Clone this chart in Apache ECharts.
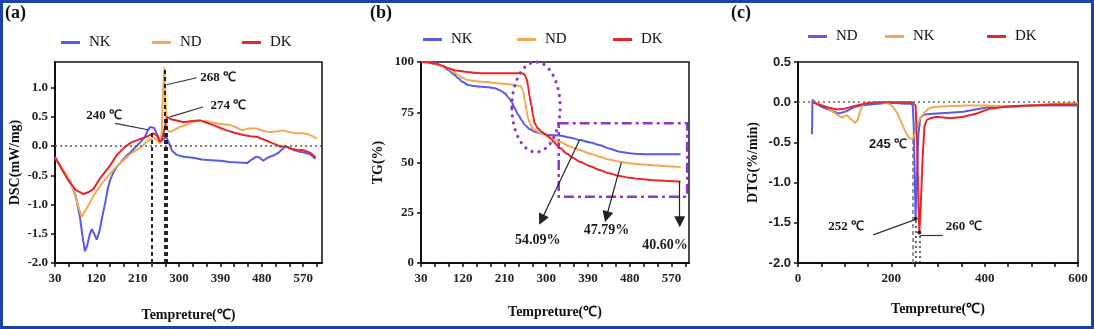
<!DOCTYPE html>
<html><head><meta charset="utf-8">
<script src="https://cdn.jsdelivr.net/npm/echarts@6/dist/echarts.min.js"></script>
<style>
html,body{margin:0;padding:0;background:#fff;}
#wrap{position:relative;width:1094px;height:329px;overflow:hidden;background:#fff;}
.panel{position:absolute;left:0;top:0;width:1094px;height:329px;}
#frame{position:absolute;left:0;top:0;width:1094px;height:329px;box-sizing:border-box;border:3px solid #1b43a6;pointer-events:none;}
</style></head><body>
<div id="wrap"><div id="pa" class="panel"></div><div id="pb" class="panel"></div><div id="pc" class="panel"></div><div id="frame"></div></div>
<script>
// ---- DSC curves (temperature ℃, mW/mg) ----
const dscNK = [[30,-0.2],[45,-0.38],[63,-0.6],[75,-0.85],[84,-1.2],[90,-1.55],[95,-1.8],[100,-1.7],[106,-1.5],[110,-1.42],[115,-1.5],[121,-1.6],[127,-1.45],[133,-1.2],[139,-0.98],[145,-0.72],[150,-0.58],[157,-0.45],[164,-0.36],[175,-0.26],[185,-0.17],[195,-0.1],[205,-0.02],[215,0.06],[225,0.15],[232,0.27],[237,0.33],[240,0.35],[246,0.31],[252,0.2],[258,0.1],[262,0.08],[267,0.12],[272,0.16],[278,0.05],[285,-0.08],[295,-0.15],[310,-0.18],[330,-0.2],[350,-0.23],[370,-0.24],[390,-0.25],[410,-0.27],[430,-0.28],[448,-0.29],[458,-0.23],[468,-0.18],[476,-0.2],[483,-0.25],[492,-0.2],[505,-0.16],[515,-0.12],[525,-0.05],[532,0.0],[540,-0.03],[550,-0.07],[560,-0.09],[572,-0.11],[585,-0.14],[597,-0.22]];
const dscND = [[30,-0.2],[45,-0.38],[63,-0.6],[75,-0.88],[88,-1.21],[100,-1.05],[113,-0.86],[130,-0.66],[150,-0.47],[165,-0.34],[179,-0.24],[195,-0.13],[215,-0.03],[225,0.04],[237,0.12],[245,0.15],[252,0.1],[258,0.05],[262,0.2],[265,0.9],[268,1.35],[270,0.8],[273,0.3],[280,0.24],[290,0.28],[302,0.33],[320,0.38],[339,0.44],[355,0.43],[368,0.41],[390,0.38],[411,0.36],[425,0.32],[437,0.27],[450,0.3],[469,0.3],[485,0.26],[498,0.24],[512,0.25],[527,0.27],[540,0.24],[557,0.22],[570,0.22],[586,0.19],[600,0.13]];
const dscDK = [[30,-0.18],[45,-0.4],[60,-0.6],[75,-0.75],[92,-0.82],[105,-0.78],[113,-0.74],[128,-0.55],[140,-0.43],[150,-0.33],[165,-0.15],[180,-0.03],[195,0.06],[215,0.12],[232,0.17],[244,0.22],[252,0.18],[258,0.08],[263,0.1],[268,0.3],[274,0.5],[282,0.46],[295,0.44],[310,0.41],[328,0.43],[346,0.44],[360,0.4],[375,0.36],[390,0.31],[404,0.27],[420,0.23],[440,0.19],[455,0.17],[469,0.16],[485,0.11],[498,0.07],[510,0.03],[520,-0.01],[530,0.0],[542,-0.04],[556,-0.06],[571,-0.07],[585,-0.11],[597,-0.19]];
const dscPeaks = [240, 268, 274];

// ---- TG curves (temperature ℃, mass %) ----
const tgNK = [[30,100],[45,100],[60,99.6],[75,98],[89,96],[100,94],[110,92],[120,90],[132,88.5],[145,88],[161,87.7],[175,87.4],[189,87],[200,86],[211,84.4],[218,82.5],[225,80.3],[232,77],[240,73.6],[247,71],[254,68.7],[265,66.5],[275,65.3],[290,64.4],[304,63.7],[329,63.4],[350,62.5],[372,61.2],[395,60],[415,58.7],[435,57],[458,55.4],[480,54.6],[502,54.2],[530,54.12],[560,54.1],[590,54.09]];
const tgND = [[30,100],[45,99.8],[60,99],[75,98],[89,96.7],[100,95],[110,93.5],[120,92],[132,91],[145,90.5],[161,90.2],[180,89.8],[196,89.4],[215,89],[232,88.6],[245,88],[250,86],[254,80.3],[258,75.5],[261,72],[265,69.5],[268,67.8],[275,66.2],[290,64.5],[310,62],[329,60.3],[350,58],[372,56.2],[395,54.4],[415,52.9],[435,51.5],[458,50.4],[480,49.6],[502,49.1],[530,48.6],[560,48.1],[590,47.79]];
const tgDK = [[30,100],[45,99.8],[60,99.3],[75,98.3],[89,96.9],[105,95.8],[125,95.2],[145,94.7],[161,94.4],[200,94.4],[232,94.4],[250,94.3],[254,93.5],[258,91.5],[261,88],[264,83],[268,78.6],[272,73],[275,69.5],[282,67],[290,65.3],[300,63.8],[311,62],[315,60.3],[330,57.2],[344,54.5],[358,52.3],[372,50.4],[395,48.1],[415,46.3],[435,44.6],[458,43.3],[480,42.4],[502,41.8],[530,41.2],[560,40.85],[590,40.6]];

// ---- DTG curves (temperature ℃, %/min) ----
const dtgND = [[30,-0.4],[31,0.03],[40,-0.02],[51,-0.06],[70,-0.1],[86,-0.14],[100,-0.12],[108,-0.1],[120,-0.06],[136,-0.04],[155,-0.03],[172,-0.02],[190,-0.01],[208,-0.01],[230,-0.02],[244,-0.02],[246,-0.05],[248,-0.3],[250,-0.9],[252,-1.45],[255,-0.9],[258,-0.4],[262,-0.2],[268,-0.16],[276,-0.15],[297,-0.14],[325,-0.13],[354,-0.12],[380,-0.09],[411,-0.06],[450,-0.05],[497,-0.04],[550,-0.04],[600,-0.04]];
const dtgNK = [[30,0],[45,-0.02],[62,-0.06],[75,-0.12],[90,-0.18],[97,-0.19],[104,-0.16],[112,-0.2],[122,-0.26],[128,-0.22],[134,-0.1],[140,-0.02],[160,0],[180,0],[195,-0.02],[204,-0.06],[213,-0.14],[222,-0.26],[230,-0.36],[237,-0.44],[245,-0.46],[250,-0.4],[254,-0.31],[260,-0.22],[269,-0.14],[280,-0.08],[290,-0.06],[320,-0.05],[360,-0.04],[400,-0.04],[440,-0.05],[461,-0.06],[480,-0.05],[500,-0.04],[550,-0.02],[600,-0.01]];
const dtgDK = [[30,0],[45,-0.03],[60,-0.06],[83,-0.09],[100,-0.08],[126,-0.04],[150,-0.01],[180,0],[210,0],[244,0],[252,-0.04],[255,-0.5],[258,-1.2],[260,-1.62],[263,-1.3],[267,-0.7],[271,-0.3],[276,-0.22],[283,-0.2],[297,-0.18],[326,-0.2],[354,-0.18],[383,-0.14],[411,-0.08],[440,-0.06],[497,-0.04],[550,-0.03],[600,-0.03]];
const dtgPeaks = [245, 252, 260];

// ---- axis ticks and labels ----
const tempTicks = [30,60,90,120,150,180,210,240,270,300,330,360,390,420,450,480,510,540,570,600];
const tempLabels = [30,120,210,300,390,480,570];
const dscTicks = [-2,-1.5,-1,-0.5,0,0.5,1];
const tgTicks = [0,25,50,75,100];
const dtgTempTicks = [0,50,100,150,200,250,300,350,400,450,500,550,600];
const dtgTempLabels = [0,200,400,600];
const dtgTicks = [-2,-1.5,-1,-0.5,0,0.5];

const BLUE = '#5a5ae6', ORANGE = '#f2a952', RED = '#e5262b', PURPLE = '#8e37cc';
const SERIF = '"Liberation Serif","Times New Roman",serif';
const SANS = '"Liberation Sans",Arial,sans-serif';

function legendItem(name, color, left, top) {
  return { data: [{ name: name, itemStyle: { color: color } }], left: left, top: top, icon: 'rect',
    itemWidth: 19, itemHeight: 3, selectedMode: false, padding: 0,
    textStyle: { fontFamily: SERIF, fontSize: 15, color: '#111', padding: [0, 0, 0, 4] } };
}
function xAxisOf(min, max, ticks, labels, gap) {
  return { type: 'value', min: min, max: max, name: 'Tempreture(℃)', nameLocation: 'middle', nameGap: gap,
    nameTextStyle: { fontFamily: SERIF, fontWeight: 'bold', fontSize: 14, color: '#111' },
    axisLine: { show: true, onZero: false, lineStyle: { color: '#111', width: 2 } },
    axisTick: { show: true, customValues: ticks, length: 4, lineStyle: { color: '#111', width: 1.5 } },
    axisLabel: { customValues: labels, margin: 9, fontFamily: SERIF, fontWeight: 'bold', fontSize: 13, color: '#222' },
    splitLine: { show: false } };
}
function yAxisOf(min, max, ticks, name, gap, fmt, family) {
  return { type: 'value', min: min, max: max, name: name, nameLocation: 'middle', nameGap: gap,
    nameTextStyle: { fontFamily: SERIF, fontWeight: 'bold', fontSize: 14, color: '#111' },
    axisLine: { show: true, onZero: false, lineStyle: { color: '#111', width: 2 } },
    axisTick: { show: true, customValues: ticks, length: 4, lineStyle: { color: '#111', width: 1.5 } },
    axisLabel: { customValues: ticks, margin: 7, formatter: fmt, fontFamily: family || SERIF, fontWeight: 'bold', fontSize: 13, color: '#222' },
    splitLine: { show: false } };
}
function gridAt(left, width) {
  return { left: left, top: 62, width: width, height: 201, show: true, borderColor: '#111', borderWidth: 1.5, backgroundColor: 'rgba(0,0,0,0)' };
}
function lineSeries(name, data, color, smooth) {
  return { name: name, type: 'line', data: data, showSymbol: false, smooth: smooth || false, smoothMonotone: 'x',
    lineStyle: { color: color, width: 2 }, itemStyle: { color: color }, animation: false, silent: true };
}
function seg(a, b, style) { return [{ coord: a, lineStyle: style }, { coord: b }]; }
function textAt(coord, text, font, size) {
  return { coord: coord, symbol: 'rect', symbolSize: 1, itemStyle: { color: 'rgba(0,0,0,0)' },
    label: { show: true, position: 'inside', formatter: text, fontFamily: font || SERIF, fontWeight: 'bold', fontSize: size || 13, color: '#1a1a1a' } };
}
function titleOf(t, left) {
  return { text: t, left: left, top: 4, padding: 0, textStyle: { fontFamily: SERIF, fontWeight: 'bold', fontSize: 18, color: '#111' } };
}
const fmt1 = v => Number(v).toFixed(1);
const degLabel = t => t + ' ℃';

// ---------------- (a) DSC ----------------
const dashBlack = { color: '#111', width: 1.8, type: [4, 3] };
const leader = { color: '#333', width: 1.2, type: 'solid' };
const pa = echarts.init(document.getElementById('pa'));
const sNK = lineSeries('NK', dscNK, BLUE);
sNK.markLine = { silent: true, symbol: ['none', 'none'], animation: false, label: { show: false },
  data: [
    [{ yAxis: 0, x: 55, lineStyle: { color: '#555', width: 1.5, type: [2, 3] } }, { yAxis: 0, x: 322 }],
    seg([dscPeaks[0], -2], [dscPeaks[0], 0.28], dashBlack),
    seg([dscPeaks[1], -2], [dscPeaks[1], 1.33], dashBlack),
    seg([dscPeaks[2], -2], [dscPeaks[2], 0.47], dashBlack),
    seg([161, 0.39], [232, 0.28], leader),
    seg([273, 1.05], [338, 1.17], leader),
    seg([280, 0.5], [352, 0.67], leader)
  ] };
sNK.markPoint = { silent: true, animation: false, data: [
  textAt([137, 0.53], degLabel(dscPeaks[0])),
  textAt([385, 1.18], degLabel(dscPeaks[1])),
  textAt([407, 0.70], degLabel(dscPeaks[2]))
] };
pa.setOption({
  animation: false,
  title: titleOf('(a)', 5),
  legend: [legendItem('NK', BLUE, 61, 35), legendItem('ND', ORANGE, 152, 35), legendItem('DK', RED, 242, 35)],
  grid: gridAt(55, 267),
  xAxis: xAxisOf(30, 611, tempTicks, tempLabels, 45),
  yAxis: yAxisOf(-2, 1.44, dscTicks, 'DSC(mW/mg)', 33, fmt1),
  series: [sNK, lineSeries('ND', dscND, ORANGE), lineSeries('DK', dscDK, RED)]
});

// ---------------- (b) TG ----------------
const pb = echarts.init(document.getElementById('pb'));
const last = arr => arr[arr.length - 1];
const arrowStyle = { color: '#222', width: 1.2, type: 'solid' };
const tNK = lineSeries('NK', tgNK, BLUE, 0.3);
tNK.markArea = { silent: true, animation: false, label: { show: false },
  itemStyle: { color: 'rgba(0,0,0,0)', borderColor: PURPLE, borderWidth: 2.5, borderType: [10, 4, 3, 4] },
  data: [[{ coord: [327, 69.5] }, { coord: [604, 33] }]] };
tNK.markLine = { silent: true, animation: false, symbol: ['none', 'triangle'], symbolSize: 11, label: { show: false },
  data: [
    seg([372, 61.2], [290, 21.5], arrowStyle),
    seg([462, 49.9], [430, 23], arrowStyle),
    seg([588, last(tgDK)[1]], [588, 20.5], arrowStyle)
  ] };
tNK.markPoint = { silent: true, animation: false, data: [
  textAt([282, 11.4], last(tgNK)[1].toFixed(2) + '%', SERIF, 14),
  textAt([430, 16.4], last(tgND)[1].toFixed(2) + '%', SERIF, 14),
  textAt([556, 9], last(tgDK)[1].toFixed(2) + '%', SERIF, 14)
] };
const ellipseSeries = { type: 'custom', silent: true, animation: false, z: 5, clip: false,
  data: [[278, 77.6, 52, 22.4]],
  renderItem: function (params, api) {
    const c = api.coord([api.value(0), api.value(1)]);
    const s = api.size([api.value(2), api.value(3)]);
    return { type: 'ellipse', shape: { cx: c[0], cy: c[1], rx: s[0], ry: s[1] },
      style: { fill: 'none', stroke: PURPLE, lineWidth: 3.2, lineDash: [0.1, 7], lineCap: 'round' } };
  } };
pb.setOption({
  animation: false,
  title: titleOf('(b)', 370),
  legend: [legendItem('NK', BLUE, 423, 32), legendItem('ND', ORANGE, 517, 32), legendItem('DK', RED, 613, 32)],
  grid: gridAt(421, 268),
  xAxis: xAxisOf(30, 608, tempTicks, tempLabels, 42),
  yAxis: yAxisOf(0, 100, tgTicks, 'TG(%)', 36, v => v),
  series: [tNK, lineSeries('ND', tgND, ORANGE, 0.3), lineSeries('DK', tgDK, RED, 0.3), ellipseSeries]
});

// ---------------- (c) DTG ----------------
const pc = echarts.init(document.getElementById('pc'));
const dND = lineSeries('ND', dtgND, BLUE);
dND.markLine = { silent: true, animation: false, symbol: ['none', 'none'], label: { show: false },
  data: [
    [{ yAxis: 0, x: 798, lineStyle: { color: '#666', width: 1.5, type: [2, 3] } }, { yAxis: 0, x: 1078 }],
    seg([dtgPeaks[0], -2], [dtgPeaks[0], -0.46], { color: '#777', width: 1.5, type: [4, 3] }),
    seg([dtgPeaks[1], -2], [dtgPeaks[1], -1.45], { color: '#333', width: 1.5, type: [2, 3] }),
    seg([dtgPeaks[2], -2], [dtgPeaks[2], -1.62], { color: '#333', width: 1.5, type: [2, 3] }),
    seg([161, -1.65], [251, -1.46], leader),
    seg([262, -1.65], [310, -1.65], leader)
  ] };
dND.markPoint = { silent: true, animation: false, data: [
  textAt([193, -0.52], degLabel(dtgPeaks[0]), SANS, 13),
  textAt([103, -1.55], degLabel(dtgPeaks[1]), SERIF, 13),
  textAt([355, -1.55], degLabel(dtgPeaks[2]), SERIF, 13),
  { coord: [dtgPeaks[1], -1.45], symbol: 'circle', symbolSize: 4, itemStyle: { color: '#222' }, label: { show: false } },
  { coord: [dtgPeaks[2], -1.62], symbol: 'circle', symbolSize: 4, itemStyle: { color: '#222' }, label: { show: false } }
] };
pc.setOption({
  animation: false,
  title: titleOf('(c)', 731),
  legend: [legendItem('ND', BLUE, 808, 29), legendItem('NK', ORANGE, 885, 29), legendItem('DK', RED, 987, 29)],
  grid: gridAt(798, 280),
  xAxis: xAxisOf(0, 600, dtgTempTicks, dtgTempLabels, 39),
  yAxis: yAxisOf(-2, 0.5, dtgTicks, 'DTG(%/min)', 38, fmt1, SANS),
  series: [dND, lineSeries('NK', dtgNK, ORANGE), lineSeries('DK', dtgDK, RED)]
});
</script></body></html>
